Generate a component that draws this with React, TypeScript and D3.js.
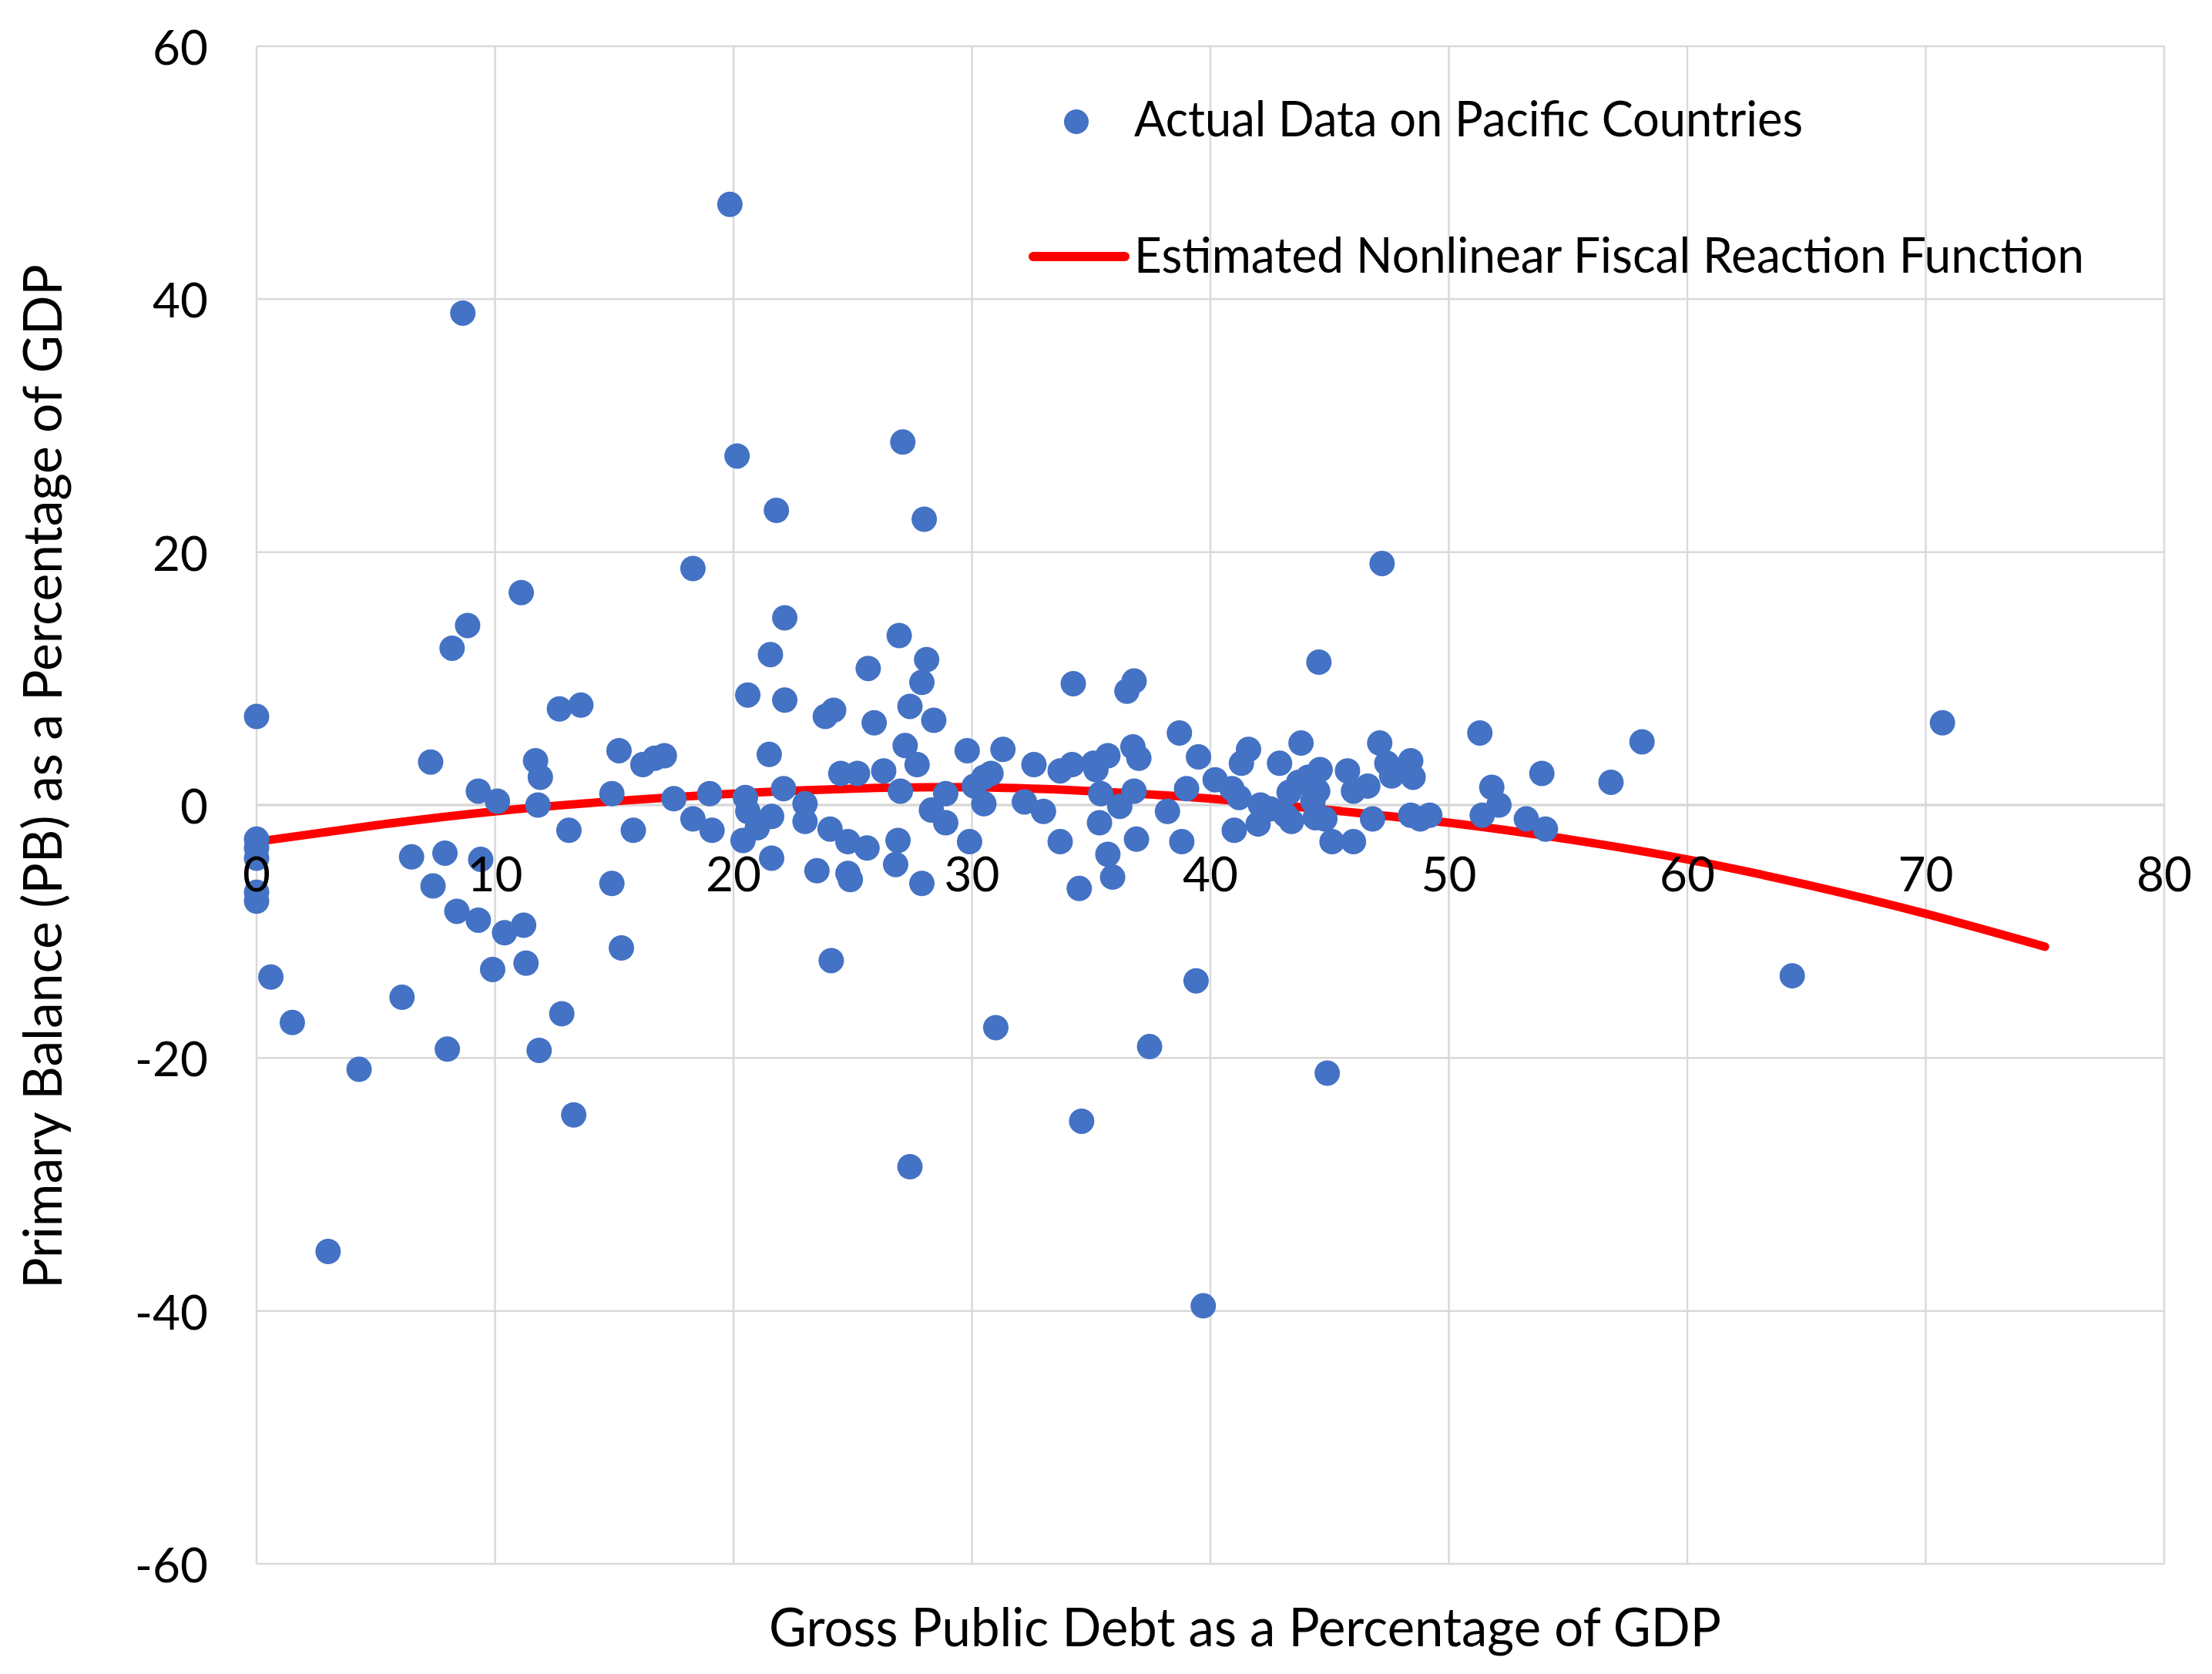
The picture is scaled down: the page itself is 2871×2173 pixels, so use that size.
import React, { useEffect } from 'react';
import * as d3 from 'd3';

// scatter: gross public debt (% of GDP) vs primary balance (% of GDP)
const debtPct = [
  0, 0, 0, 0, 0, 0, 0.6, 1.5, 3.0, 4.3, 6.1, 6.5, 7.3, 7.4, 7.9, 8.0, 8.2, 8.4, 8.65, 8.85,
  9.3, 9.3, 9.4, 9.9, 10.1, 10.4, 11.1, 11.2, 11.3, 11.7, 11.8, 11.85, 11.9, 12.7, 12.8, 13.1,
  13.3, 13.6, 14.9, 14.9, 15.2, 15.3, 15.8, 16.2, 16.7, 17.1, 17.5, 18.3, 18.3, 19.0, 19.1,
  19.85, 20.15, 20.4, 20.5, 20.6, 20.6, 21.0, 21.5, 21.55, 21.6, 21.6, 21.8, 22.1, 22.15, 22.15,
  23.0, 23.0, 23.5, 23.85, 24.05, 24.1, 24.2, 24.5, 24.8, 24.8, 24.9, 25.2, 25.6, 25.65, 25.9,
  26.3, 26.8, 26.9, 26.95, 27.0, 27.1, 27.2, 27.4, 27.4, 27.7, 27.9, 27.9, 28.0, 28.1, 28.3,
  28.4, 28.9, 28.9, 29.8, 29.9, 30.1, 30.5, 30.8, 30.5, 31.0, 31.3, 32.2, 32.6, 33.0, 33.7,
  33.7, 34.2, 34.25, 34.5, 34.6, 35.1, 35.2, 35.35, 35.4, 35.7, 35.7, 35.9, 36.2, 36.5, 36.75,
  36.8, 36.8, 36.9, 37.0, 37.45, 38.2, 38.7, 38.8, 39.0, 39.4, 39.5, 39.7,
  40.2, 40.9, 41.0, 41.2, 41.3, 41.6, 42.0, 42.1, 42.5, 42.9, 43.15, 43.3, 43.4, 43.7, 43.8,
  44.1, 44.3, 44.4, 44.5, 44.55, 44.6, 44.8, 44.9, 45.1, 45.75, 46.0, 46.0, 46.6, 46.8, 47.1,
  47.2, 47.4, 47.6, 48.4, 48.5, 48.4, 48.8, 49.2, 51.3, 51.4, 51.8, 52.1, 53.25, 53.9, 54.05,
  56.8, 58.1, 64.4, 70.7,
];

const primaryBalance = [
  7.0, -2.7, -3.4, -4.2, -6.9, -7.6, -13.6, -17.2, -35.3, -20.9, -15.2, -4.1, 3.4, -6.4, -3.8, -19.3, 12.4, -8.4, 38.9, 14.2,
  1.1, -9.1, -4.3, -13.0, 0.3, -10.1, 16.8, -9.5, -12.5, 3.5, 0.0, -19.4, 2.2, 7.6, -16.5, -2.0,
  -24.5, 7.9, 0.9, -6.2, 4.3, -11.3, -2.0, 3.2, 3.7, 3.9, 0.5, 18.7, -1.1, 0.9, -2.0,
  47.5, 27.6, -2.8, 0.6, -0.5, 8.7, -1.8, 4.0, 11.9, -0.9, -4.2, 23.3, 1.3, 14.8, 8.3,
  0.1, -1.3, -5.2, 7.0, -1.9, -12.3, 7.5, 2.5, -2.9, -5.4, -5.9, 2.5, -3.4, 10.8, 6.5,
  2.7, -4.7, -2.8, 13.4, 1.1, 28.7, 4.7, 7.8, -28.6, 3.2, 9.7, -6.2, 22.6, 11.5, -0.4,
  6.7, 0.9, -1.4, 4.3, -2.9, 1.5, 2.2, 2.5, 0.1, -17.6, 4.4, 0.25, 3.2, -0.5, 2.7,
  -2.9, 3.2, 9.6, -6.6, -25.0, 3.3, 2.8, -1.4, 0.9, 3.9, -3.9, -5.7, -0.1, 9.0, 4.6,
  9.8, 1.1, -2.7, 3.7, -19.1, -0.5, 5.7, -2.9, 1.3, -13.9, 3.8, -39.6,
  2.0, 1.3, -2.0, 0.6, 3.3, 4.4, -1.5, 0.0, -0.3, 3.3, -0.8, 1.0, -1.3, 1.8, 4.9,
  2.2, 0.3, -1.0, 1.1, 11.3, 2.8, -1.1, -21.2, -2.9, 2.7, 1.1, -2.9, 1.5, -1.1, 4.9,
  19.1, 3.3, 2.3, 3.5, 2.2, -0.8, -1.1, -0.8, 5.7, -0.8, 1.4, 0.0, -1.1, 2.5, -1.9,
  1.8, 5.0, -13.5, 6.5,
];

// estimated nonlinear fiscal reaction function
const curveDebt = [0, 5, 10, 15, 20, 25, 30, 35, 40, 45, 50, 55, 60, 65, 70, 75];
const curveBalance = [-2.9, -1.6, -0.5, 0.3, 0.9, 1.3, 1.4, 1.1, 0.5, -0.4, -1.4, -2.7, -4.3, -6.3, -8.6, -11.2];

const xTicks = [0, 10, 20, 30, 40, 50, 60, 70, 80];
const yTicks = [60, 40, 20, 0, -20, -40, -60];

const seriesNames = ['Actual Data on Pacific Countries', 'Estimated Nonlinear Fiscal Reaction Function'];
const xTitle = 'Gross Public Debt as a Percentage of GDP';
const yTitle = 'Primary Balance (PB) as a Percentage of GDP';

const W = 2871;
const H = 2173;
const plot = { left: 333, right: 2809, top: 60, bottom: 2030 };
const FONT = 'Lato, "Open Sans", sans-serif';
const BLUE = '#4472C4';
const GRID = '#D9D9D9';

const App: React.FC = () => {
  useEffect(() => {
    document.body.style.margin = '0';
  }, []);

  const x = d3.scaleLinear().domain([0, 80]).range([plot.left, plot.right]);
  const y = d3.scaleLinear().domain([-60, 60]).range([plot.bottom, plot.top]);

  const points = debtPct.map((d, i) => ({ d, b: primaryBalance[i] }));
  const curvePts = curveDebt.map((d, i) => [d, curveBalance[i]] as [number, number]);
  const line = d3.line<[number, number]>()
    .x(p => x(p[0]))
    .y(p => y(p[1]))
    .curve(d3.curveNatural);

  return (
    <svg width={W} height={H} style={{ display: 'block', background: '#fff' }}>
      {/* gridlines */}
      {xTicks.map(t => (
        <line key={'gx' + t} x1={x(t)} x2={x(t)} y1={plot.top} y2={plot.bottom} stroke={GRID} strokeWidth={2.5} />
      ))}
      {yTicks.map(t => (
        <line key={'gy' + t} x1={plot.left} x2={plot.right} y1={y(t)} y2={y(t)} stroke={GRID} strokeWidth={t === 0 ? 3.5 : 2.5} />
      ))}

      {/* fitted curve under the markers */}
      <path d={line(curvePts) || ''} fill="none" stroke="#FF0000" strokeWidth={11} strokeLinecap="round" />

      {points.map((p, i) => (
        <circle key={i} cx={x(p.d)} cy={y(p.b)} r={16.5} fill={BLUE} />
      ))}

      {/* y tick labels */}
      {yTicks.map(t => (
        <text key={'ty' + t} x={270} y={y(t)} textAnchor="end" dominantBaseline="central"
          fontFamily={FONT} fontSize={62} fill="#000">{t}</text>
      ))}
      {/* x tick labels sit under the zero line */}
      {xTicks.map(t => (
        <text key={'tx' + t} x={x(t)} y={y(0) + 88} textAnchor="middle" dominantBaseline="central"
          fontFamily={FONT} fontSize={62} fill="#000">{t}</text>
      ))}

      {/* legend */}
      <circle cx={1397} cy={158} r={16} fill={BLUE} />
      <text x={1472} y={177} fontFamily={FONT} fontSize={64} textLength={868} lengthAdjust="spacingAndGlyphs">
        {seriesNames[0]}
      </text>
      <line x1={1341} x2={1460} y1={333} y2={333} stroke="#FF0000" strokeWidth={12} strokeLinecap="round" />
      <text x={1472} y={354} fontFamily={FONT} fontSize={64} textLength={1233} lengthAdjust="spacingAndGlyphs">
        {seriesNames[1]}
      </text>

      {/* axis titles */}
      <text x={998} y={2137} fontFamily={FONT} fontSize={70} textLength={1236} lengthAdjust="spacingAndGlyphs">
        {xTitle}
      </text>
      <text transform="translate(80,1673) rotate(-90)" x={0} y={0} fontFamily={FONT} fontSize={70}
        textLength={1330} lengthAdjust="spacingAndGlyphs">
        {yTitle}
      </text>
    </svg>
  );
};

export default App;
